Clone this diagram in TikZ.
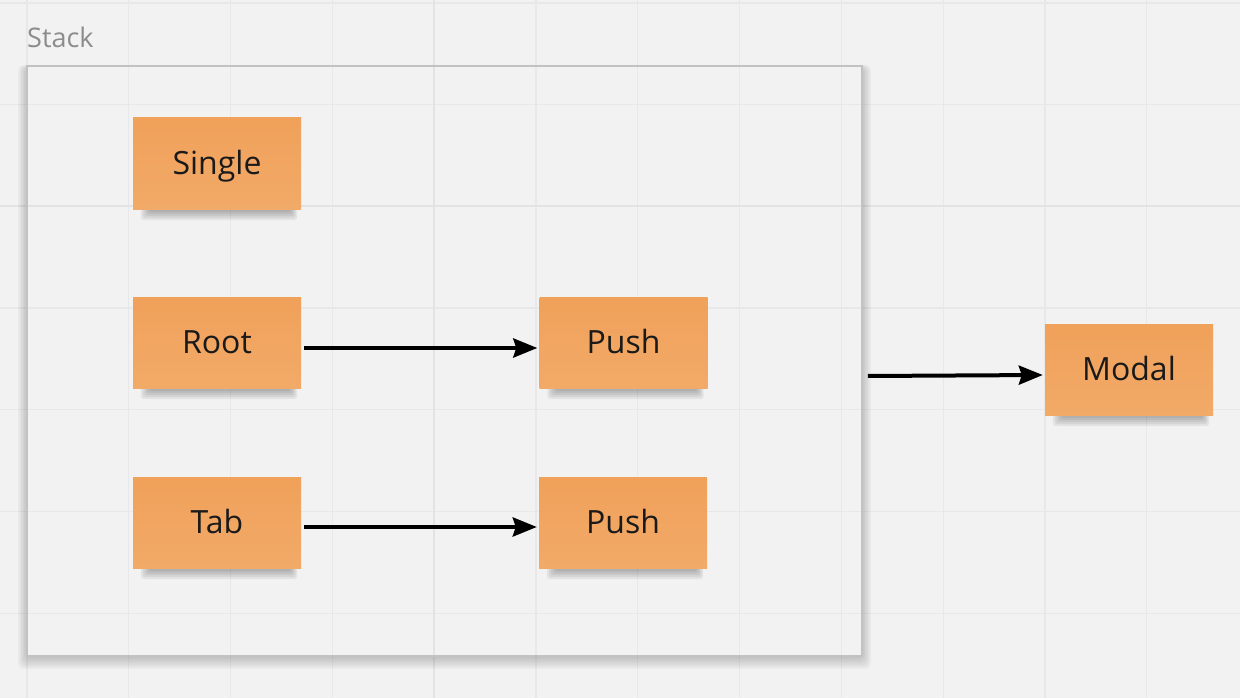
\documentclass[tikz,border=0pt]{standalone}
\usepackage{fontspec}
\setmainfont{Open Sans}
\usetikzlibrary{arrows.meta,calc}
\definecolor{bgc}{HTML}{F2F2F2}
\definecolor{gridc}{HTML}{E8E8E8}
\definecolor{gridm}{HTML}{E3E3E3}
\definecolor{notetop}{HTML}{F0A15A}
\definecolor{notebot}{HTML}{F2AA68}
\definecolor{ink}{HTML}{1A1A1A}
\definecolor{framec}{HTML}{C2C2C2}
\definecolor{labelc}{HTML}{8C8C8C}
\pgfdeclarelayer{back}
\pgfdeclarelayer{shade}
\pgfsetlayers{back,shade,main}
\tikzset{
  note/.style={rectangle, minimum width=168pt, minimum height=91pt, inner sep=0pt,
    top color=notetop, bottom color=notebot, text=ink,
    font=\fontsize{32}{36}\selectfont, text height=22.5pt, text depth=0pt},
  arr/.style={-{Stealth[length=24pt,width=19pt,inset=3pt]}, line width=4pt, black},
  gridline/.style={gridc, line width=1.3pt},
  majorline/.style={gridm, line width=2pt},
  framebox/.style={rectangle, draw=framec, line width=1.6pt, minimum width=835pt, minimum height=590pt, inner sep=0pt},
  stacklabel/.style={anchor=base west, text=labelc, font=\fontsize{27}{32}\selectfont, inner sep=0pt}
}
\begin{document}
\begin{tikzpicture}[x=1pt,y=-1pt]
\useasboundingbox (0,0) rectangle (1240,698);
\begin{pgfonlayer}{back}
  \fill[bgc] (0,0) rectangle (1240,698);
  \foreach \i in {0,...,12} \draw[gridline] ({27+\i*101.8},0) -- ({27+\i*101.8},698);
  \foreach \j in {0,...,6} \draw[gridline] (0,{3+\j*101.7}) -- (1240,{3+\j*101.7});
  \draw[majorline] (434,0) -- (434,698);
  \draw[majorline] (0,206.4) -- (1240,206.4);
\end{pgfonlayer}

% frame shadow and interior
\begin{pgfonlayer}{shade}
  \foreach \k in {1,...,6}
    \fill[black,opacity=0.03,rounded corners=6pt] ({27-1.5*\k},{68-0.5*\k}) rectangle ({862+1.5*\k},{657+2*\k});
  \fill[bgc] (27,66) rectangle (862,656);
  \begin{scope}
    \clip (27,66) rectangle (862,656);
    \foreach \i in {0,...,12} \draw[gridline] ({27+\i*101.8},0) -- ({27+\i*101.8},698);
    \foreach \j in {0,...,6} \draw[gridline] (0,{3+\j*101.7}) -- (1240,{3+\j*101.7});
    \draw[majorline] (434,0) -- (434,698);
    \draw[majorline] (0,206.4) -- (1240,206.4);
  \end{scope}
\end{pgfonlayer}

\node[framebox] (stack) at (444.5,361) {};
\node[stacklabel] (lbl) at (27,48) {Stack};

\node[note] (single) at (217,163.5) {Single};
\node[note] (root) at (217,342.5) {Root};
\node[note] (tab) at (217,522.5) {Tab};
\node[note] (push1) at (623.5,342.5) {Push};
\node[note] (push2) at (623,522.5) {Push};
\node[note] (modal) at (1129,369.5) {Modal};

\begin{pgfonlayer}{shade}
  \foreach \n in {single,root,tab,push1,push2,modal} {
    \foreach \k in {0,...,4} {
      \fill[black,opacity=0.06,rounded corners=3pt]
        ($(\n.south west)+({8+2*\k},-8)$) rectangle ($(\n.south east)+({-4-1.5*\k},{11-2*\k})$);
    }
  }
\end{pgfonlayer}

\draw[arr] ([xshift=3pt,yshift=-5.5pt]root.east) -- ([xshift=-2pt,yshift=-5.5pt]push1.west);
\draw[arr] ([xshift=3pt,yshift=-4.5pt]tab.east) -- ([xshift=-2pt,yshift=-4.5pt]push2.west);
\coordinate (s) at (stack.east |- modal.west);
\draw[arr] ([xshift=5pt,yshift=-6.5pt]s) -- ([xshift=-2pt,yshift=-5.5pt]modal.west);
\end{tikzpicture}
\end{document}
